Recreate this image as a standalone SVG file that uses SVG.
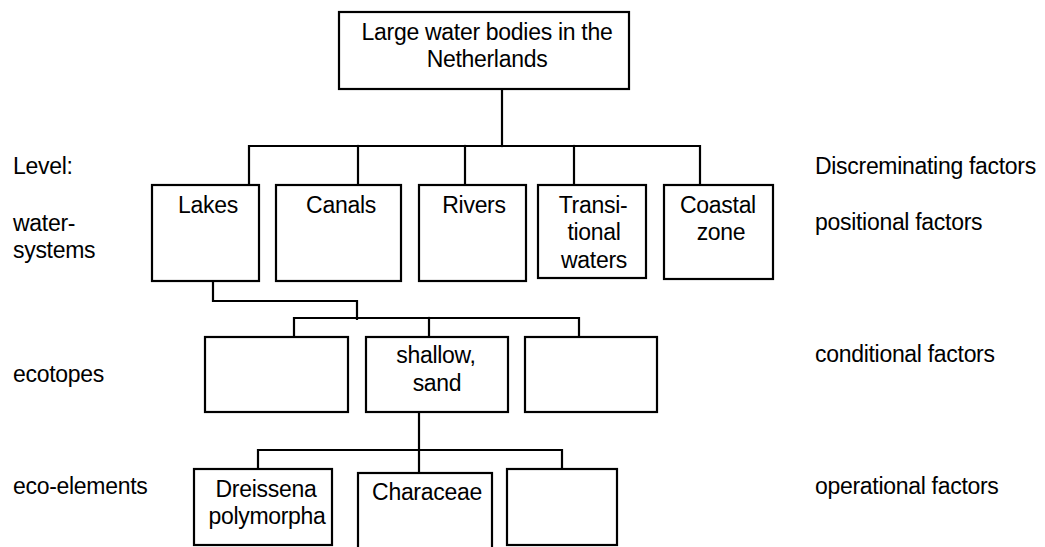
<svg xmlns="http://www.w3.org/2000/svg" width="1045" height="547" viewBox="0 0 1045 547">
<style>
.box{fill:#fff;stroke:#000;stroke-width:2.2}
.ln{fill:none;stroke:#000;stroke-width:2.2;stroke-linecap:square}
text{font-family:"Liberation Sans",Arial,sans-serif;font-size:23px;fill:#000;letter-spacing:-0.3px}
.c{text-anchor:middle}
</style>
<rect width="1045" height="547" fill="#fff"/>
<g id="connectors">
<polyline class="ln" points="502,89 502,146"/>
<polyline class="ln" points="249,185 249,146 700,146 700,185"/>
<polyline class="ln" points="358,146 358,185"/>
<polyline class="ln" points="465,146 465,185"/>
<polyline class="ln" points="574,146 574,185"/>
<polyline class="ln" points="213,281 213,301 357,301 357,319"/>
<polyline class="ln" points="294,337 294,318 579,318 579,337"/>
<polyline class="ln" points="429,318 429,337"/>
<polyline class="ln" points="419,412 419,473"/>
<polyline class="ln" points="258,469 258,450 562,450 562,469"/>
</g>
<g id="root"><rect class="box" x="339" y="12" width="290" height="77"/>
<text class="c" x="487" y="40">Large water bodies in the</text>
<text class="c" x="487" y="67">Netherlands</text></g>
<g id="lakes"><rect class="box" x="152" y="185" width="107" height="96"/><text class="c" x="208" y="213">Lakes</text></g>
<g id="canals"><rect class="box" x="276" y="185" width="125" height="96"/><text class="c" x="341" y="213">Canals</text></g>
<g id="rivers"><rect class="box" x="419" y="185" width="107" height="96"/><text class="c" x="474" y="213">Rivers</text></g>
<g id="transitional"><rect class="box" x="538" y="185" width="108" height="93"/>
<text class="c" x="593" y="213">Transi-</text><text class="c" x="594" y="240">tional</text><text class="c" x="594" y="268">waters</text></g>
<g id="coastal"><rect class="box" x="664" y="185" width="109" height="94"/>
<text class="c" x="718" y="213">Coastal</text><text class="c" x="721" y="240">zone</text></g>
<g id="eco1"><rect class="box" x="205" y="337" width="143" height="75"/></g>
<g id="eco2"><rect class="box" x="366" y="337" width="142" height="75"/>
<text class="c" x="436" y="363">shallow,</text><text class="c" x="437" y="391">sand</text></g>
<g id="eco3"><rect class="box" x="525" y="337" width="132" height="75"/></g>
<g id="dreissena"><rect class="box" x="194" y="469" width="138" height="76"/>
<text class="c" x="266" y="497">Dreissena</text><text class="c" x="267" y="524">polymorpha</text></g>
<g id="characeae"><rect class="box" x="358" y="473" width="134" height="90"/><text class="c" x="427" y="500">Characeae</text></g>
<g id="element3"><rect class="box" x="507" y="469" width="110" height="76"/></g>
<g id="labels-left">
<text x="13" y="174">Level:</text>
<text x="13" y="231">water-</text>
<text x="13" y="258">systems</text>
<text x="13" y="382">ecotopes</text>
<text x="13" y="494">eco-elements</text>
</g>
<g id="labels-right">
<text x="815" y="174">Discreminating factors</text>
<text x="815" y="230">positional factors</text>
<text x="815" y="362">conditional factors</text>
<text x="815" y="494">operational factors</text>
</g>
</svg>
